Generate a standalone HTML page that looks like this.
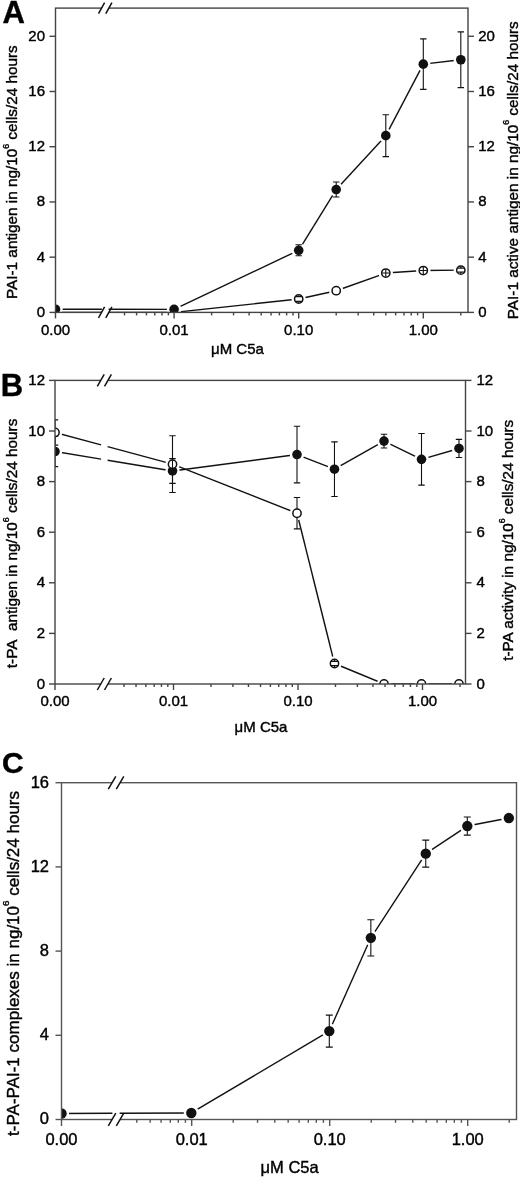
<!DOCTYPE html>
<html><head><meta charset="utf-8"><style>
html,body{margin:0;padding:0;background:#fff;}
svg{display:block;will-change:transform;font-family:"Liberation Sans",sans-serif;}
text{fill:#000;stroke:#000;stroke-width:0.4px;}
</style></head><body>
<svg width="520" height="1178" viewBox="0 0 520 1178">
<rect width="520" height="1178" fill="#fff"/>
<clipPath id="clipA"><rect x="55.5" y="8.1" width="412.5" height="304.29999999999995"/></clipPath>
<g clip-path="url(#clipA)">
<line x1="55.50" y1="309.22" x2="101.86" y2="309.28" stroke="#111" stroke-width="1.4"/>
<line x1="108.55" y1="309.29" x2="174.10" y2="309.36" stroke="#111" stroke-width="1.4"/>
<line x1="174.10" y1="309.36" x2="298.70" y2="250.27" stroke="#111" stroke-width="1.4"/>
<line x1="298.70" y1="250.27" x2="336.21" y2="189.52" stroke="#111" stroke-width="1.4"/>
<line x1="336.21" y1="189.52" x2="385.79" y2="135.67" stroke="#111" stroke-width="1.4"/>
<line x1="385.79" y1="135.67" x2="423.30" y2="64.16" stroke="#111" stroke-width="1.4"/>
<line x1="423.30" y1="64.16" x2="460.81" y2="59.74" stroke="#111" stroke-width="1.4"/>
<line x1="55.50" y1="312.40" x2="101.86" y2="312.40" stroke="#111" stroke-width="1.4"/>
<line x1="108.55" y1="312.40" x2="174.10" y2="312.40" stroke="#111" stroke-width="1.4"/>
<line x1="174.10" y1="312.40" x2="298.70" y2="299.01" stroke="#111" stroke-width="1.4"/>
<line x1="298.70" y1="299.01" x2="336.21" y2="290.72" stroke="#111" stroke-width="1.4"/>
<line x1="336.21" y1="290.72" x2="385.79" y2="273.05" stroke="#111" stroke-width="1.4"/>
<line x1="385.79" y1="273.05" x2="423.30" y2="270.57" stroke="#111" stroke-width="1.4"/>
<line x1="423.30" y1="270.57" x2="460.81" y2="270.15" stroke="#111" stroke-width="1.4"/>
<circle cx="55.50" cy="309.22" r="7.199999999999999" fill="#fff"/>
<circle cx="174.10" cy="309.36" r="7.199999999999999" fill="#fff"/>
<circle cx="298.70" cy="250.27" r="7.199999999999999" fill="#fff"/>
<circle cx="336.21" cy="189.52" r="7.199999999999999" fill="#fff"/>
<circle cx="385.79" cy="135.67" r="7.199999999999999" fill="#fff"/>
<circle cx="423.30" cy="64.16" r="7.199999999999999" fill="#fff"/>
<circle cx="460.81" cy="59.74" r="7.199999999999999" fill="#fff"/>
<circle cx="298.70" cy="299.01" r="7.199999999999999" fill="#fff"/>
<circle cx="336.21" cy="290.72" r="7.199999999999999" fill="#fff"/>
<circle cx="385.79" cy="273.05" r="7.199999999999999" fill="#fff"/>
<circle cx="423.30" cy="270.57" r="7.199999999999999" fill="#fff"/>
<circle cx="460.81" cy="270.15" r="7.199999999999999" fill="#fff"/>
<circle cx="55.50" cy="309.22" r="4.8" fill="#111"/>
<circle cx="174.10" cy="309.36" r="4.8" fill="#111"/>
<circle cx="298.70" cy="250.27" r="4.8" fill="#111"/>
<circle cx="336.21" cy="189.52" r="4.8" fill="#111"/>
<circle cx="385.79" cy="135.67" r="4.8" fill="#111"/>
<circle cx="423.30" cy="64.16" r="4.8" fill="#111"/>
<circle cx="460.81" cy="59.74" r="4.8" fill="#111"/>
<circle cx="298.70" cy="299.01" r="4.1499999999999995" fill="#fff" stroke="#111" stroke-width="1.5"/>
<circle cx="336.21" cy="290.72" r="4.1499999999999995" fill="#fff" stroke="#111" stroke-width="1.5"/>
<circle cx="385.79" cy="273.05" r="4.1499999999999995" fill="#fff" stroke="#111" stroke-width="1.5"/>
<circle cx="423.30" cy="270.57" r="4.1499999999999995" fill="#fff" stroke="#111" stroke-width="1.5"/>
<circle cx="460.81" cy="270.15" r="4.1499999999999995" fill="#fff" stroke="#111" stroke-width="1.5"/>
<path d="M298.70 244.75V255.79M295.50 244.75H301.90M295.50 255.79H301.90" stroke="#111" stroke-width="1.1" fill="none"/>
<path d="M336.21 182.06V196.98M333.01 182.06H339.41M333.01 196.98H339.41" stroke="#111" stroke-width="1.1" fill="none"/>
<path d="M385.79 114.69V156.66M382.59 114.69H388.99M382.59 156.66H388.99" stroke="#111" stroke-width="1.1" fill="none"/>
<path d="M423.30 38.89V89.42M420.10 38.89H426.50M420.10 89.42H426.50" stroke="#111" stroke-width="1.1" fill="none"/>
<path d="M460.81 31.85V87.63M457.61 31.85H464.01M457.61 87.63H464.01" stroke="#111" stroke-width="1.1" fill="none"/>
<path d="M295.10 296.71H302.30M295.10 301.31H302.30M298.70 295.41V296.71M298.70 301.31V302.61" stroke="#111" stroke-width="1.2" fill="none"/>
<path d="M385.79 269.45V276.65M382.19 273.05H389.39" stroke="#111" stroke-width="1.1" fill="none"/>
<path d="M423.30 266.97V274.17M419.70 270.57H426.90" stroke="#111" stroke-width="1.1" fill="none"/>
<path d="M457.21 268.15H464.41M457.21 272.15H464.41M460.81 266.55V268.15M460.81 272.15V273.75" stroke="#111" stroke-width="1.2" fill="none"/>
</g>
<rect x="55.5" y="8.1" width="412.5" height="304.29999999999995" fill="none" stroke="#444" stroke-width="1.4"/>
<line x1="49.5" y1="312.40" x2="55.5" y2="312.40" stroke="#444" stroke-width="1.4"/>
<text x="45" y="316.90" text-anchor="end" font-size="15">0</text>
<line x1="468" y1="312.40" x2="474" y2="312.40" stroke="#444" stroke-width="1.4"/>
<text x="478.2" y="316.90" font-size="15">0</text>
<line x1="49.5" y1="257.17" x2="55.5" y2="257.17" stroke="#444" stroke-width="1.4"/>
<text x="45" y="261.67" text-anchor="end" font-size="15">4</text>
<line x1="468" y1="257.17" x2="474" y2="257.17" stroke="#444" stroke-width="1.4"/>
<text x="478.2" y="261.67" font-size="15">4</text>
<line x1="49.5" y1="201.95" x2="55.5" y2="201.95" stroke="#444" stroke-width="1.4"/>
<text x="45" y="206.45" text-anchor="end" font-size="15">8</text>
<line x1="468" y1="201.95" x2="474" y2="201.95" stroke="#444" stroke-width="1.4"/>
<text x="478.2" y="206.45" font-size="15">8</text>
<line x1="49.5" y1="146.72" x2="55.5" y2="146.72" stroke="#444" stroke-width="1.4"/>
<text x="45" y="151.22" text-anchor="end" font-size="15">12</text>
<line x1="468" y1="146.72" x2="474" y2="146.72" stroke="#444" stroke-width="1.4"/>
<text x="478.2" y="151.22" font-size="15">12</text>
<line x1="49.5" y1="91.49" x2="55.5" y2="91.49" stroke="#444" stroke-width="1.4"/>
<text x="45" y="95.99" text-anchor="end" font-size="15">16</text>
<line x1="468" y1="91.49" x2="474" y2="91.49" stroke="#444" stroke-width="1.4"/>
<text x="478.2" y="95.99" font-size="15">16</text>
<line x1="49.5" y1="36.27" x2="55.5" y2="36.27" stroke="#444" stroke-width="1.4"/>
<text x="45" y="40.77" text-anchor="end" font-size="15">20</text>
<line x1="468" y1="36.27" x2="474" y2="36.27" stroke="#444" stroke-width="1.4"/>
<text x="478.2" y="40.77" font-size="15">20</text>
<line x1="55.5" y1="312.4" x2="55.5" y2="318.4" stroke="#444" stroke-width="1.4"/>
<line x1="124.52" y1="312.4" x2="124.52" y2="315.4" stroke="#444" stroke-width="1.4"/>
<line x1="136.59" y1="312.4" x2="136.59" y2="315.4" stroke="#444" stroke-width="1.4"/>
<line x1="146.46" y1="312.4" x2="146.46" y2="315.4" stroke="#444" stroke-width="1.4"/>
<line x1="154.80" y1="312.4" x2="154.80" y2="315.4" stroke="#444" stroke-width="1.4"/>
<line x1="162.03" y1="312.4" x2="162.03" y2="315.4" stroke="#444" stroke-width="1.4"/>
<line x1="168.40" y1="312.4" x2="168.40" y2="315.4" stroke="#444" stroke-width="1.4"/>
<line x1="174.10" y1="312.4" x2="174.10" y2="318.4" stroke="#444" stroke-width="1.4"/>
<line x1="211.61" y1="312.4" x2="211.61" y2="315.4" stroke="#444" stroke-width="1.4"/>
<line x1="233.55" y1="312.4" x2="233.55" y2="315.4" stroke="#444" stroke-width="1.4"/>
<line x1="249.12" y1="312.4" x2="249.12" y2="315.4" stroke="#444" stroke-width="1.4"/>
<line x1="261.19" y1="312.4" x2="261.19" y2="315.4" stroke="#444" stroke-width="1.4"/>
<line x1="271.06" y1="312.4" x2="271.06" y2="315.4" stroke="#444" stroke-width="1.4"/>
<line x1="279.40" y1="312.4" x2="279.40" y2="315.4" stroke="#444" stroke-width="1.4"/>
<line x1="286.63" y1="312.4" x2="286.63" y2="315.4" stroke="#444" stroke-width="1.4"/>
<line x1="293.00" y1="312.4" x2="293.00" y2="315.4" stroke="#444" stroke-width="1.4"/>
<line x1="298.70" y1="312.4" x2="298.70" y2="318.4" stroke="#444" stroke-width="1.4"/>
<line x1="336.21" y1="312.4" x2="336.21" y2="315.4" stroke="#444" stroke-width="1.4"/>
<line x1="358.15" y1="312.4" x2="358.15" y2="315.4" stroke="#444" stroke-width="1.4"/>
<line x1="373.72" y1="312.4" x2="373.72" y2="315.4" stroke="#444" stroke-width="1.4"/>
<line x1="385.79" y1="312.4" x2="385.79" y2="315.4" stroke="#444" stroke-width="1.4"/>
<line x1="395.66" y1="312.4" x2="395.66" y2="315.4" stroke="#444" stroke-width="1.4"/>
<line x1="404.00" y1="312.4" x2="404.00" y2="315.4" stroke="#444" stroke-width="1.4"/>
<line x1="411.23" y1="312.4" x2="411.23" y2="315.4" stroke="#444" stroke-width="1.4"/>
<line x1="417.60" y1="312.4" x2="417.60" y2="315.4" stroke="#444" stroke-width="1.4"/>
<line x1="423.30" y1="312.4" x2="423.30" y2="318.4" stroke="#444" stroke-width="1.4"/>
<line x1="460.81" y1="312.4" x2="460.81" y2="315.4" stroke="#444" stroke-width="1.4"/>
<text x="55.50" y="335" text-anchor="middle" font-size="15">0.00</text>
<text x="174.10" y="335" text-anchor="middle" font-size="15">0.01</text>
<text x="298.70" y="335" text-anchor="middle" font-size="15">0.10</text>
<text x="423.30" y="335" text-anchor="middle" font-size="15">1.00</text>
<text x="211" y="354.2" font-size="15">&#956;M C5a</text>
<rect x="101.55" y="5.6" width="7.30" height="5" fill="#fff"/>
<line x1="98.5" y1="13.6" x2="104.6" y2="2.5999999999999996" stroke="#111" stroke-width="1.5"/>
<line x1="105.80000000000001" y1="13.6" x2="111.9" y2="2.5999999999999996" stroke="#111" stroke-width="1.5"/>
<rect x="101.55" y="309.9" width="7.30" height="5" fill="#fff"/>
<line x1="98.5" y1="317.9" x2="104.6" y2="306.9" stroke="#111" stroke-width="1.5"/>
<line x1="105.80000000000001" y1="317.9" x2="111.9" y2="306.9" stroke="#111" stroke-width="1.5"/>
<text transform="translate(17.0,299.0) rotate(-90)" font-size="15.3">PAI-1 antigen in ng/10<tspan dy="-8.4" font-size="8.7">6</tspan><tspan dy="8.4"> cells/24 hours</tspan></text>
<text transform="translate(517.8,319.2) rotate(-90)" font-size="15.3">PAI-1 active antigen in ng/10<tspan dy="-8.4" font-size="8.7">6</tspan><tspan dy="8.4"> cells/24 hours</tspan></text>
<text x="2.5" y="23.3" font-size="31" font-weight="bold">A</text>
<clipPath id="clipB"><rect x="55" y="380.4" width="410.5" height="303.6"/></clipPath>
<g clip-path="url(#clipB)">
<line x1="55.00" y1="451.49" x2="101.09" y2="459.14" stroke="#111" stroke-width="1.4"/>
<line x1="107.61" y1="460.21" x2="172.50" y2="470.97" stroke="#111" stroke-width="1.4"/>
<line x1="172.50" y1="470.97" x2="297.00" y2="454.53" stroke="#111" stroke-width="1.4"/>
<line x1="297.00" y1="454.53" x2="334.48" y2="469.20" stroke="#111" stroke-width="1.4"/>
<line x1="334.48" y1="469.20" x2="384.02" y2="441.12" stroke="#111" stroke-width="1.4"/>
<line x1="384.02" y1="441.12" x2="421.50" y2="459.34" stroke="#111" stroke-width="1.4"/>
<line x1="421.50" y1="459.34" x2="458.98" y2="448.46" stroke="#111" stroke-width="1.4"/>
<line x1="55.00" y1="432.52" x2="101.09" y2="444.92" stroke="#111" stroke-width="1.4"/>
<line x1="107.61" y1="446.68" x2="172.50" y2="464.14" stroke="#111" stroke-width="1.4"/>
<line x1="172.50" y1="464.14" x2="297.00" y2="513.23" stroke="#111" stroke-width="1.4"/>
<line x1="297.00" y1="513.23" x2="334.48" y2="663.51" stroke="#111" stroke-width="1.4"/>
<line x1="334.48" y1="663.51" x2="384.02" y2="684.00" stroke="#111" stroke-width="1.4"/>
<line x1="384.02" y1="684.00" x2="421.50" y2="684.00" stroke="#111" stroke-width="1.4"/>
<line x1="421.50" y1="684.00" x2="458.98" y2="684.00" stroke="#111" stroke-width="1.4"/>
<circle cx="55.00" cy="451.49" r="7.199999999999999" fill="#fff"/>
<circle cx="172.50" cy="470.97" r="7.199999999999999" fill="#fff"/>
<circle cx="297.00" cy="454.53" r="7.199999999999999" fill="#fff"/>
<circle cx="334.48" cy="469.20" r="7.199999999999999" fill="#fff"/>
<circle cx="384.02" cy="441.12" r="7.199999999999999" fill="#fff"/>
<circle cx="421.50" cy="459.34" r="7.199999999999999" fill="#fff"/>
<circle cx="458.98" cy="448.46" r="7.199999999999999" fill="#fff"/>
<circle cx="55.00" cy="432.52" r="7.199999999999999" fill="#fff"/>
<circle cx="172.50" cy="464.14" r="7.199999999999999" fill="#fff"/>
<circle cx="297.00" cy="513.23" r="7.199999999999999" fill="#fff"/>
<circle cx="334.48" cy="663.51" r="7.199999999999999" fill="#fff"/>
<circle cx="384.02" cy="684.00" r="7.199999999999999" fill="#fff"/>
<circle cx="421.50" cy="684.00" r="7.199999999999999" fill="#fff"/>
<circle cx="458.98" cy="684.00" r="7.199999999999999" fill="#fff"/>
<path d="M55.00 419.87V445.17M51.80 419.87H58.20M51.80 445.17H58.20" stroke="#111" stroke-width="1.1" fill="none"/>
<path d="M172.50 435.81V492.48M169.30 435.81H175.70M169.30 492.48H175.70" stroke="#111" stroke-width="1.1" fill="none"/>
<path d="M297.00 497.54V528.91M293.80 497.54H300.20M293.80 528.91H300.20" stroke="#111" stroke-width="1.1" fill="none"/>
<circle cx="55.00" cy="451.49" r="4.8" fill="#111"/>
<circle cx="172.50" cy="470.97" r="4.8" fill="#111"/>
<circle cx="297.00" cy="454.53" r="4.8" fill="#111"/>
<circle cx="334.48" cy="469.20" r="4.8" fill="#111"/>
<circle cx="384.02" cy="441.12" r="4.8" fill="#111"/>
<circle cx="421.50" cy="459.34" r="4.8" fill="#111"/>
<circle cx="458.98" cy="448.46" r="4.8" fill="#111"/>
<circle cx="55.00" cy="432.52" r="4.1499999999999995" fill="#fff" stroke="#111" stroke-width="1.5"/>
<circle cx="172.50" cy="464.14" r="4.1499999999999995" fill="#fff" stroke="#111" stroke-width="1.5"/>
<circle cx="297.00" cy="513.23" r="4.1499999999999995" fill="#fff" stroke="#111" stroke-width="1.5"/>
<circle cx="334.48" cy="663.51" r="4.1499999999999995" fill="#fff" stroke="#111" stroke-width="1.5"/>
<circle cx="384.02" cy="684.00" r="4.1499999999999995" fill="#fff" stroke="#111" stroke-width="1.5"/>
<circle cx="421.50" cy="684.00" r="4.1499999999999995" fill="#fff" stroke="#111" stroke-width="1.5"/>
<circle cx="458.98" cy="684.00" r="4.1499999999999995" fill="#fff" stroke="#111" stroke-width="1.5"/>
<path d="M55.00 436.31V466.67M51.80 436.31H58.20M51.80 466.67H58.20" stroke="#111" stroke-width="1.1" fill="none"/>
<path d="M172.50 458.58V483.37M169.30 458.58H175.70M169.30 483.37H175.70" stroke="#111" stroke-width="1.1" fill="none"/>
<path d="M297.00 426.19V482.87M293.80 426.19H300.20M293.80 482.87H300.20" stroke="#111" stroke-width="1.1" fill="none"/>
<path d="M334.48 441.88V496.53M331.28 441.88H337.68M331.28 496.53H337.68" stroke="#111" stroke-width="1.1" fill="none"/>
<path d="M384.02 434.29V447.95M380.82 434.29H387.22M380.82 447.95H387.22" stroke="#111" stroke-width="1.1" fill="none"/>
<path d="M421.50 433.53V485.14M418.30 433.53H424.70M418.30 485.14H424.70" stroke="#111" stroke-width="1.1" fill="none"/>
<path d="M458.98 439.35V457.56M455.78 439.35H462.18M455.78 457.56H462.18" stroke="#111" stroke-width="1.1" fill="none"/>
<path d="M330.88 661.31H338.08M330.88 665.71H338.08M334.48 659.91V661.31M334.48 665.71V667.11" stroke="#111" stroke-width="1.2" fill="none"/>
</g>
<rect x="55" y="380.4" width="410.5" height="303.6" fill="none" stroke="#444" stroke-width="1.4"/>
<line x1="49" y1="684.00" x2="55" y2="684.00" stroke="#444" stroke-width="1.4"/>
<text x="45" y="688.50" text-anchor="end" font-size="15">0</text>
<line x1="465.5" y1="684.00" x2="471.5" y2="684.00" stroke="#444" stroke-width="1.4"/>
<text x="476.5" y="688.50" font-size="15">0</text>
<line x1="49" y1="633.40" x2="55" y2="633.40" stroke="#444" stroke-width="1.4"/>
<text x="45" y="637.90" text-anchor="end" font-size="15">2</text>
<line x1="465.5" y1="633.40" x2="471.5" y2="633.40" stroke="#444" stroke-width="1.4"/>
<text x="476.5" y="637.90" font-size="15">2</text>
<line x1="49" y1="582.80" x2="55" y2="582.80" stroke="#444" stroke-width="1.4"/>
<text x="45" y="587.30" text-anchor="end" font-size="15">4</text>
<line x1="465.5" y1="582.80" x2="471.5" y2="582.80" stroke="#444" stroke-width="1.4"/>
<text x="476.5" y="587.30" font-size="15">4</text>
<line x1="49" y1="532.20" x2="55" y2="532.20" stroke="#444" stroke-width="1.4"/>
<text x="45" y="536.70" text-anchor="end" font-size="15">6</text>
<line x1="465.5" y1="532.20" x2="471.5" y2="532.20" stroke="#444" stroke-width="1.4"/>
<text x="476.5" y="536.70" font-size="15">6</text>
<line x1="49" y1="481.60" x2="55" y2="481.60" stroke="#444" stroke-width="1.4"/>
<text x="45" y="486.10" text-anchor="end" font-size="15">8</text>
<line x1="465.5" y1="481.60" x2="471.5" y2="481.60" stroke="#444" stroke-width="1.4"/>
<text x="476.5" y="486.10" font-size="15">8</text>
<line x1="49" y1="431.00" x2="55" y2="431.00" stroke="#444" stroke-width="1.4"/>
<text x="45" y="435.50" text-anchor="end" font-size="15">10</text>
<line x1="465.5" y1="431.00" x2="471.5" y2="431.00" stroke="#444" stroke-width="1.4"/>
<text x="476.5" y="435.50" font-size="15">10</text>
<line x1="49" y1="380.40" x2="55" y2="380.40" stroke="#444" stroke-width="1.4"/>
<text x="45" y="384.90" text-anchor="end" font-size="15">12</text>
<line x1="465.5" y1="380.40" x2="471.5" y2="380.40" stroke="#444" stroke-width="1.4"/>
<text x="476.5" y="384.90" font-size="15">12</text>
<line x1="55" y1="684" x2="55" y2="690" stroke="#444" stroke-width="1.4"/>
<line x1="123.96" y1="684" x2="123.96" y2="687" stroke="#444" stroke-width="1.4"/>
<line x1="136.02" y1="684" x2="136.02" y2="687" stroke="#444" stroke-width="1.4"/>
<line x1="145.88" y1="684" x2="145.88" y2="687" stroke="#444" stroke-width="1.4"/>
<line x1="154.21" y1="684" x2="154.21" y2="687" stroke="#444" stroke-width="1.4"/>
<line x1="161.43" y1="684" x2="161.43" y2="687" stroke="#444" stroke-width="1.4"/>
<line x1="167.80" y1="684" x2="167.80" y2="687" stroke="#444" stroke-width="1.4"/>
<line x1="173.50" y1="684" x2="173.50" y2="690" stroke="#444" stroke-width="1.4"/>
<line x1="210.98" y1="684" x2="210.98" y2="687" stroke="#444" stroke-width="1.4"/>
<line x1="232.90" y1="684" x2="232.90" y2="687" stroke="#444" stroke-width="1.4"/>
<line x1="248.46" y1="684" x2="248.46" y2="687" stroke="#444" stroke-width="1.4"/>
<line x1="260.52" y1="684" x2="260.52" y2="687" stroke="#444" stroke-width="1.4"/>
<line x1="270.38" y1="684" x2="270.38" y2="687" stroke="#444" stroke-width="1.4"/>
<line x1="278.71" y1="684" x2="278.71" y2="687" stroke="#444" stroke-width="1.4"/>
<line x1="285.93" y1="684" x2="285.93" y2="687" stroke="#444" stroke-width="1.4"/>
<line x1="292.30" y1="684" x2="292.30" y2="687" stroke="#444" stroke-width="1.4"/>
<line x1="298.00" y1="684" x2="298.00" y2="690" stroke="#444" stroke-width="1.4"/>
<line x1="335.48" y1="684" x2="335.48" y2="687" stroke="#444" stroke-width="1.4"/>
<line x1="357.40" y1="684" x2="357.40" y2="687" stroke="#444" stroke-width="1.4"/>
<line x1="372.96" y1="684" x2="372.96" y2="687" stroke="#444" stroke-width="1.4"/>
<line x1="385.02" y1="684" x2="385.02" y2="687" stroke="#444" stroke-width="1.4"/>
<line x1="394.88" y1="684" x2="394.88" y2="687" stroke="#444" stroke-width="1.4"/>
<line x1="403.21" y1="684" x2="403.21" y2="687" stroke="#444" stroke-width="1.4"/>
<line x1="410.43" y1="684" x2="410.43" y2="687" stroke="#444" stroke-width="1.4"/>
<line x1="416.80" y1="684" x2="416.80" y2="687" stroke="#444" stroke-width="1.4"/>
<line x1="422.50" y1="684" x2="422.50" y2="690" stroke="#444" stroke-width="1.4"/>
<line x1="459.98" y1="684" x2="459.98" y2="687" stroke="#444" stroke-width="1.4"/>
<text x="55.00" y="706.3" text-anchor="middle" font-size="15">0.00</text>
<text x="173.50" y="706.3" text-anchor="middle" font-size="15">0.01</text>
<text x="298.00" y="706.3" text-anchor="middle" font-size="15">0.10</text>
<text x="422.50" y="706.3" text-anchor="middle" font-size="15">1.00</text>
<text x="234.6" y="731.8" font-size="15">&#956;M C5a</text>
<rect x="100.75" y="377.9" width="7.20" height="5" fill="#fff"/>
<line x1="97.3" y1="386.4" x2="104.2" y2="374.4" stroke="#111" stroke-width="1.5"/>
<line x1="104.5" y1="386.4" x2="111.4" y2="374.4" stroke="#111" stroke-width="1.5"/>
<rect x="100.75" y="681.5" width="7.20" height="5" fill="#fff"/>
<line x1="97.3" y1="690" x2="104.2" y2="678" stroke="#111" stroke-width="1.5"/>
<line x1="104.5" y1="690" x2="111.4" y2="678" stroke="#111" stroke-width="1.5"/>
<text transform="translate(17,668.2) rotate(-90)" font-size="15.3">t-PA&#160; antigen in ng/10<tspan dy="-8.4" font-size="8.7">6</tspan><tspan dy="8.4"> cells/24 hours</tspan></text>
<text transform="translate(513.3,660.8) rotate(-90)" font-size="15.3">t-PA activity in ng/10<tspan dy="-8.4" font-size="8.7">6</tspan><tspan dy="8.4"> cells/24 hours</tspan></text>
<text x="0.8" y="396.3" font-size="31" font-weight="bold">B</text>
<clipPath id="clipC"><rect x="61.5" y="782.7" width="455.0" height="336.79999999999995"/></clipPath>
<g clip-path="url(#clipC)">
<line x1="61.50" y1="1113.50" x2="112.42" y2="1113.29" stroke="#111" stroke-width="1.4"/>
<line x1="119.67" y1="1113.26" x2="191.30" y2="1112.97" stroke="#111" stroke-width="1.4"/>
<line x1="191.30" y1="1112.97" x2="329.30" y2="1031.09" stroke="#111" stroke-width="1.4"/>
<line x1="329.30" y1="1031.09" x2="370.84" y2="937.84" stroke="#111" stroke-width="1.4"/>
<line x1="370.84" y1="937.84" x2="425.76" y2="853.64" stroke="#111" stroke-width="1.4"/>
<line x1="425.76" y1="853.64" x2="467.30" y2="826.06" stroke="#111" stroke-width="1.4"/>
<line x1="467.30" y1="826.06" x2="508.84" y2="818.06" stroke="#111" stroke-width="1.4"/>
<circle cx="61.50" cy="1113.50" r="7.6" fill="#fff"/>
<circle cx="191.30" cy="1112.97" r="7.6" fill="#fff"/>
<circle cx="329.30" cy="1031.09" r="7.6" fill="#fff"/>
<circle cx="370.84" cy="937.84" r="7.6" fill="#fff"/>
<circle cx="425.76" cy="853.64" r="7.6" fill="#fff"/>
<circle cx="467.30" cy="826.06" r="7.6" fill="#fff"/>
<circle cx="508.84" cy="818.06" r="7.6" fill="#fff"/>
<circle cx="61.50" cy="1113.50" r="5.2" fill="#111"/>
<circle cx="191.30" cy="1112.97" r="5.2" fill="#111"/>
<circle cx="329.30" cy="1031.09" r="5.2" fill="#111"/>
<circle cx="370.84" cy="937.84" r="5.2" fill="#111"/>
<circle cx="425.76" cy="853.64" r="5.2" fill="#111"/>
<circle cx="467.30" cy="826.06" r="5.2" fill="#111"/>
<circle cx="508.84" cy="818.06" r="5.2" fill="#111"/>
<path d="M329.30 1015.09V1047.09M325.80 1015.09H332.80M325.80 1047.09H332.80" stroke="#111" stroke-width="1.1" fill="none"/>
<path d="M370.84 919.74V955.94M367.34 919.74H374.34M367.34 955.94H374.34" stroke="#111" stroke-width="1.1" fill="none"/>
<path d="M425.76 840.17V867.11M422.26 840.17H429.26M422.26 867.11H429.26" stroke="#111" stroke-width="1.1" fill="none"/>
<path d="M467.30 817.01V835.11M463.80 817.01H470.80M463.80 835.11H470.80" stroke="#111" stroke-width="1.1" fill="none"/>
<path d="M508.84 815.96V820.17M505.34 815.96H512.34M505.34 820.17H512.34" stroke="#111" stroke-width="1.1" fill="none"/>
</g>
<rect x="61.5" y="782.7" width="455.0" height="336.79999999999995" fill="none" stroke="#555" stroke-width="1.4"/>
<line x1="55.5" y1="1119.50" x2="61.5" y2="1119.50" stroke="#555" stroke-width="1.4"/>
<text x="49" y="1124.45" text-anchor="end" font-size="16.5">0</text>
<line x1="55.5" y1="1035.30" x2="61.5" y2="1035.30" stroke="#555" stroke-width="1.4"/>
<text x="49" y="1040.25" text-anchor="end" font-size="16.5">4</text>
<line x1="55.5" y1="951.10" x2="61.5" y2="951.10" stroke="#555" stroke-width="1.4"/>
<text x="49" y="956.05" text-anchor="end" font-size="16.5">8</text>
<line x1="55.5" y1="866.90" x2="61.5" y2="866.90" stroke="#555" stroke-width="1.4"/>
<text x="49" y="871.85" text-anchor="end" font-size="16.5">12</text>
<line x1="55.5" y1="782.70" x2="61.5" y2="782.70" stroke="#555" stroke-width="1.4"/>
<text x="49" y="787.65" text-anchor="end" font-size="16.5">16</text>
<line x1="61.5" y1="1119.5" x2="61.5" y2="1126.0" stroke="#555" stroke-width="1.4"/>
<line x1="136.78" y1="1119.5" x2="136.78" y2="1122.8" stroke="#555" stroke-width="1.4"/>
<line x1="150.16" y1="1119.5" x2="150.16" y2="1122.8" stroke="#555" stroke-width="1.4"/>
<line x1="161.08" y1="1119.5" x2="161.08" y2="1122.8" stroke="#555" stroke-width="1.4"/>
<line x1="170.32" y1="1119.5" x2="170.32" y2="1122.8" stroke="#555" stroke-width="1.4"/>
<line x1="178.33" y1="1119.5" x2="178.33" y2="1122.8" stroke="#555" stroke-width="1.4"/>
<line x1="185.39" y1="1119.5" x2="185.39" y2="1122.8" stroke="#555" stroke-width="1.4"/>
<line x1="191.70" y1="1119.5" x2="191.70" y2="1126.0" stroke="#555" stroke-width="1.4"/>
<line x1="233.24" y1="1119.5" x2="233.24" y2="1122.8" stroke="#555" stroke-width="1.4"/>
<line x1="257.54" y1="1119.5" x2="257.54" y2="1122.8" stroke="#555" stroke-width="1.4"/>
<line x1="274.78" y1="1119.5" x2="274.78" y2="1122.8" stroke="#555" stroke-width="1.4"/>
<line x1="288.16" y1="1119.5" x2="288.16" y2="1122.8" stroke="#555" stroke-width="1.4"/>
<line x1="299.08" y1="1119.5" x2="299.08" y2="1122.8" stroke="#555" stroke-width="1.4"/>
<line x1="308.32" y1="1119.5" x2="308.32" y2="1122.8" stroke="#555" stroke-width="1.4"/>
<line x1="316.33" y1="1119.5" x2="316.33" y2="1122.8" stroke="#555" stroke-width="1.4"/>
<line x1="323.39" y1="1119.5" x2="323.39" y2="1122.8" stroke="#555" stroke-width="1.4"/>
<line x1="329.70" y1="1119.5" x2="329.70" y2="1126.0" stroke="#555" stroke-width="1.4"/>
<line x1="371.24" y1="1119.5" x2="371.24" y2="1122.8" stroke="#555" stroke-width="1.4"/>
<line x1="395.54" y1="1119.5" x2="395.54" y2="1122.8" stroke="#555" stroke-width="1.4"/>
<line x1="412.78" y1="1119.5" x2="412.78" y2="1122.8" stroke="#555" stroke-width="1.4"/>
<line x1="426.16" y1="1119.5" x2="426.16" y2="1122.8" stroke="#555" stroke-width="1.4"/>
<line x1="437.08" y1="1119.5" x2="437.08" y2="1122.8" stroke="#555" stroke-width="1.4"/>
<line x1="446.32" y1="1119.5" x2="446.32" y2="1122.8" stroke="#555" stroke-width="1.4"/>
<line x1="454.33" y1="1119.5" x2="454.33" y2="1122.8" stroke="#555" stroke-width="1.4"/>
<line x1="461.39" y1="1119.5" x2="461.39" y2="1122.8" stroke="#555" stroke-width="1.4"/>
<line x1="467.70" y1="1119.5" x2="467.70" y2="1126.0" stroke="#555" stroke-width="1.4"/>
<line x1="509.24" y1="1119.5" x2="509.24" y2="1122.8" stroke="#555" stroke-width="1.4"/>
<text x="61.50" y="1144.8" text-anchor="middle" font-size="16.5">0.00</text>
<text x="191.70" y="1144.8" text-anchor="middle" font-size="16.5">0.01</text>
<text x="329.70" y="1144.8" text-anchor="middle" font-size="16.5">0.10</text>
<text x="467.70" y="1144.8" text-anchor="middle" font-size="16.5">1.00</text>
<text x="260.6" y="1172.7" font-size="16.5">&#956;M C5a</text>
<rect x="112.05" y="780.2" width="8.00" height="5" fill="#fff"/>
<line x1="108.3" y1="789.1" x2="115.8" y2="776.3000000000001" stroke="#111" stroke-width="1.5"/>
<line x1="116.3" y1="789.1" x2="123.8" y2="776.3000000000001" stroke="#111" stroke-width="1.5"/>
<rect x="112.05" y="1117.0" width="8.00" height="5" fill="#fff"/>
<line x1="108.3" y1="1125.9" x2="115.8" y2="1113.1" stroke="#111" stroke-width="1.5"/>
<line x1="116.3" y1="1125.9" x2="123.8" y2="1113.1" stroke="#111" stroke-width="1.5"/>
<text transform="translate(18.5,1135.9) rotate(-90)" font-size="17">t-PA-PAI-1 complexes in ng/10<tspan dy="-9.4" font-size="9.7">6</tspan><tspan dy="9.4"> cells/24 hours</tspan></text>
<text x="2" y="773" font-size="30" font-weight="bold">C</text>
</svg></body></html>
